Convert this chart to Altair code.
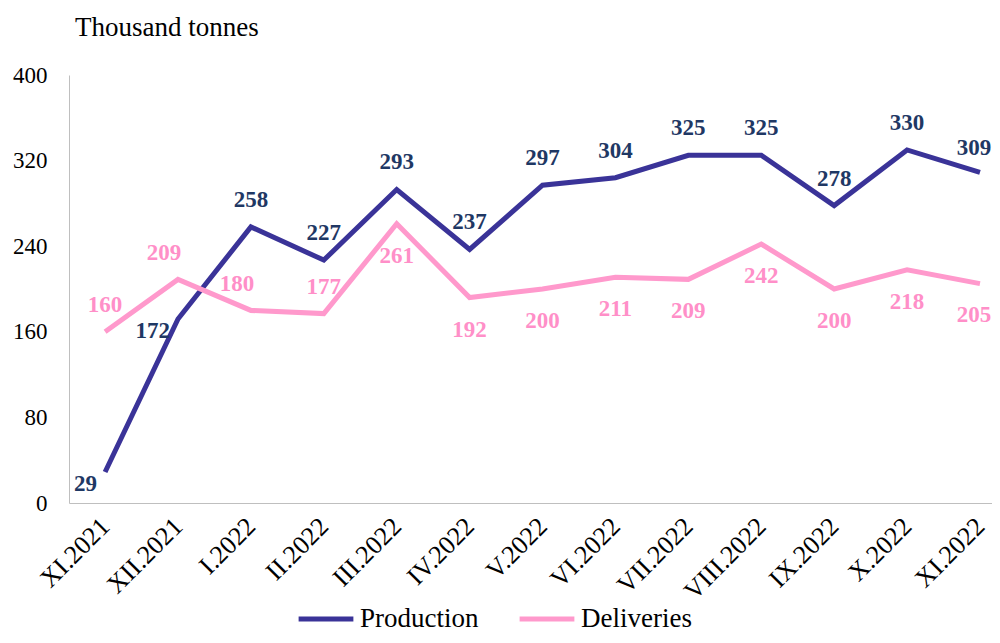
import altair as alt
import pandas as pd

months = ["XI.2021", "XII.2021", "I.2022", "II.2022", "III.2022", "IV.2022", "V.2022",
          "VI.2022", "VII.2022", "VIII.2022", "IX.2022", "X.2022", "XI.2022"]
production = [29, 172, 258, 227, 293, 237, 297, 304, 325, 325, 278, 330, 309]
deliveries = [160, 209, 180, 177, 261, 192, 200, 211, 209, 242, 200, 218, 205]
prod_label_side = ["left", "left", "above", "above", "above", "above", "above",
                   "above", "above", "above", "above", "above", "above_end"]
deliv_label_side = ["above", "aboveleft", "aboveleft", "above", "below", "below", "below",
                    "below", "below", "below", "below", "below", "below_end"]
series_names = ["Production", "Deliveries"]
y_ticks = [0, 80, 160, 240, 320, 400]

rows = []
for i, m in enumerate(months):
    rows.append({"month": m, "series": "Production", "value": production[i], "side": prod_label_side[i]})
    rows.append({"month": m, "series": "Deliveries", "value": deliveries[i], "side": deliv_label_side[i]})
df = pd.DataFrame(rows)

FONT = "Liberation Serif"

x_enc = alt.X("month:N", sort=months,
              scale=alt.Scale(type="point", padding=0.33, align=0.75),
              axis=alt.Axis(title=None, labelAngle=-45, labelAlign="right", labelBaseline="middle",
                            labelFontSize=26, labelFont=FONT, labelColor="#000000",
                            domainColor="#BFBFBF", domainWidth=1, ticks=False, grid=False,
                            labelPadding=19))
y_enc = alt.Y("value:Q", scale=alt.Scale(domain=[0, 400]),
              axis=alt.Axis(title=None, values=y_ticks, ticks=False, grid=False,
                            labelFontSize=23, labelFont=FONT, labelColor="#000000",
                            labelPadding=22, domainColor="#BFBFBF", domainWidth=1))

base = alt.Chart(df)

lines = base.mark_line(strokeWidth=5).encode(
    x=x_enc, y=y_enc,
    color=alt.Color("series:N", sort=series_names,
                    scale=alt.Scale(domain=series_names, range=["#3A3398", "#FF99CC"]),
                    legend=alt.Legend(title=None, orient="none", legendX=227, legendY=514,
                                      direction="horizontal", symbolType="stroke",
                                      symbolStrokeWidth=5, symbolSize=3000,
                                      labelFontSize=27, labelFont=FONT, labelColor="#000000",
                                      labelOffset=4, columnPadding=30)),
)

label_color = alt.Color("series:N", sort=series_names,
                        scale=alt.Scale(domain=series_names, range=["#1F3864", "#FF8FC8"]),
                        legend=None)

def labels(side, **kw):
    return base.transform_filter(alt.datum.side == side).mark_text(
        font=FONT, fontSize=23, fontWeight="bold", baseline="middle", **kw
    ).encode(x=alt.X("month:N", sort=months), y="value:Q", text="value:Q", color=label_color)

text_layers = [
    labels("above", dy=-27),
    labels("above_end", dx=-6, dy=-24),
    labels("aboveleft", dx=-14, dy=-26),
    labels("below", dy=32),
    labels("below_end", dx=-6, dy=31),
    labels("left", align="right", dx=-8, dy=12),
]

chart = alt.layer(lines, *text_layers).resolve_scale(color="independent").properties(
    width=923, height=428,
    autosize="none",
    padding={"left": 61, "top": 67, "right": 0, "bottom": 132},
    title=alt.Title("Thousand tonnes", anchor="start", frame="group", dx=6, offset=22,
                    fontSize=27, font=FONT, fontWeight="normal", color="#000000"),
).configure(font=FONT).configure_legend(labelFont=FONT).configure_view(stroke=None)

chart.save("out.html", embed_options={"renderer": "svg", "actions": False})
